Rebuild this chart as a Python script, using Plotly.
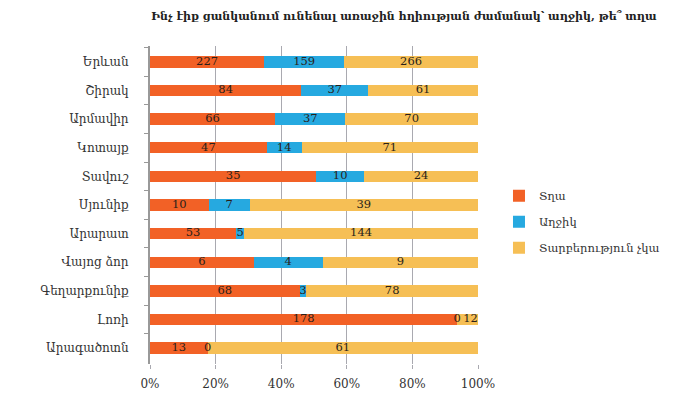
import plotly.graph_objects as go

title = "Ինչ էիք ցանկանում ունենալ առաջին հղիության ժամանակ՝ աղջիկ, թե՞ տղա"
regions = ["Երևան", "Շիրակ", "Արմավիր", "Կոտայք", "Տավուշ", "Սյունիք",
           "Արարատ", "Վայոց ձոր", "Գեղարքունիք", "Լոռի", "Արագածոտն"]
boy = [227, 84, 66, 47, 35, 10, 53, 6, 68, 178, 13]
girl = [159, 37, 37, 14, 10, 7, 5, 4, 3, 0, 0]
nodiff = [266, 61, 70, 71, 24, 39, 144, 9, 78, 12, 61]
series_names = ["Տղա", "Աղջիկ", "Տարբերություն չկա"]
colors = ["#F26126", "#26A9E0", "#F6BF55"]
xticks = [0, 20, 40, 60, 80, 100]

FONT = "DejaVu Serif"
LABEL_SIZE = 11.5
PLOT_W = 328
series = [boy, girl, nodiff]
totals = [a + b + c for a, b, c in zip(boy, girl, nodiff)]

fig = go.Figure()
for name, vals, col in zip(series_names, series, colors):
    pct = [v / t * 100 for v, t in zip(vals, totals)]
    fig.add_trace(go.Bar(y=regions, x=pct, name=name, orientation="h",
                         legendgroup=name,
                         marker=dict(color=col, line=dict(width=0)),
                         hoverinfo="skip"))

# labels centered within each segment; nudge right if colliding with previous
lx, ly, lt, lp = [], [], [], []
char_w = 0.64 * LABEL_SIZE / PLOT_W * 100  # approx digit width in %
for i, r in enumerate(regions):
    cum = 0.0
    prev_right = None
    for vals in series:
        p = vals[i] / totals[i] * 100
        c = cum + p / 2
        s = str(vals[i])
        half = len(s) * char_w / 2
        pos = "middle center"
        if prev_right is not None and c - half < prev_right + char_w * 0.3:
            pos = "middle right"
            c = prev_right + char_w * 0.3
            prev_right = c + 2 * half + char_w * 0.4
        else:
            prev_right = c + half
        lx.append(c)
        ly.append(r)
        lt.append(s)
        lp.append(pos)
        cum += p
fig.add_trace(go.Scatter(x=lx, y=ly, text=lt, mode="text", showlegend=False,
                         textposition=lp,
                         textfont=dict(family=FONT, size=LABEL_SIZE, color="#2a1f1a"),
                         hoverinfo="skip", cliponaxis=False))

fig.update_layout(
    barmode="stack", bargap=0.6,
    width=692, height=389,
    margin=dict(l=142, r=222, t=37.5, b=32.5, autoexpand=False),
    paper_bgcolor="white", plot_bgcolor="white",
    font=dict(family=FONT, color="#333"),
    title=dict(text="<b>" + title + "</b>", x=0.572, xanchor="center",
               y=0.979, yanchor="middle",
               font=dict(family=FONT, size=11, color="#222")),
    legend=dict(x=1.064, y=0.447, xanchor="left", yanchor="middle",
                xref="paper", yref="paper",
                font=dict(family=FONT, size=11.5, color="#333"),
                traceorder="grouped", tracegroupgap=7),
    xaxis=dict(range=[0, 100], tickvals=xticks,
               ticktext=[f"{v}%" for v in xticks],
               showgrid=True, gridcolor="#A9A9B0", gridwidth=1,
               zeroline=False, ticks="outside", ticklen=4, tickcolor="#A9A9B0",
               tickfont=dict(family=FONT, size=12, color="#333"),
               ticklabelstandoff=5,
               showline=False, fixedrange=True, automargin=False),
    yaxis=dict(autorange="reversed", showline=True, linecolor="#999",
               linewidth=2,
               ticks="outside", tickson="boundaries", ticklen=4,
               tickcolor="#999", showgrid=False,
               tickfont=dict(family=FONT, size=12, color="#333"),
               ticklabelstandoff=17, fixedrange=True, automargin=False),
)
fig.write_html("out.html")
